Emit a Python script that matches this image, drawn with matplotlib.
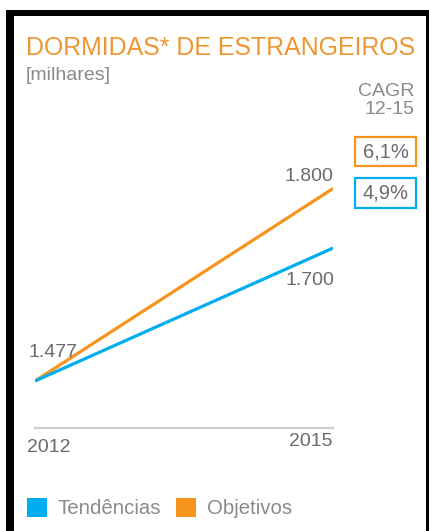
import matplotlib
matplotlib.use("Agg")
import matplotlib.pyplot as plt
from matplotlib.patches import Rectangle

# ---- data ----
years = [2012, 2015]
tendencias = [1477, 1700]
objetivos = [1477, 1800]
value_labels_start = "1.477"
label_tend_end = "1.700"
label_obj_end = "1.800"
cagr_obj = "6,1%"
cagr_tend = "4,9%"
series_names = ["Tendências", "Objetivos"]

BLUE = "#00AEEF"
ORANGE = "#F7941D"
TITLE_OR = "#EE9630"
GRAY = "#8a8a8a"
DGRAY = "#6a6a6a"

plt.rcParams['font.family'] = ['Liberation Sans', 'DejaVu Sans']

W, H = 429, 531
fig = plt.figure(figsize=(W / 100, H / 100), dpi=100)
fig.patch.set_facecolor("white")

def fx(px):
    return px / W

def fy(py):
    return 1 - py / H

# frame
for (x0, y0, x1, y1) in [(6, 10, 14, 531), (6, 10, 429, 16), (426, 10, 429, 531)]:
    fig.add_artist(Rectangle((fx(x0), fy(y1)), fx(x1) - fx(x0), fy(y0) - fy(y1),
                             transform=fig.transFigure, color="black", lw=0))

# axes: x 35..333 px, y 150..428 px
ax_l, ax_r, ax_t, ax_b = 35, 333, 150, 428
ax = fig.add_axes([fx(ax_l), fy(ax_b), fx(ax_r) - fx(ax_l), fy(ax_t) - fy(ax_b)])
ax.set_facecolor("none")
ax.set_xlim(2012, 2015)
ppu = 0.596
ax.set_ylim(1477 - (ax_b - 381) / ppu, 1477 + (381 - ax_t) / ppu)
for s in ["top", "right", "left"]:
    ax.spines[s].set_visible(False)
ax.spines["bottom"].set_color("#cfcfcf")
ax.spines["bottom"].set_linewidth(1.6)
ax.set_xticks([])
ax.set_yticks([])

ax.plot(years, objetivos, color=ORANGE, lw=2.3, solid_capstyle="butt", zorder=3)
ax.plot(years, tendencias, color=BLUE, lw=2.3, solid_capstyle="butt", zorder=4)

ax.annotate(value_labels_start, (years[0], tendencias[0]), xytext=(-7, 29),
            textcoords="offset pixels", ha="left", va="center", color=DGRAY, fontsize=14)
ax.annotate(label_obj_end, (years[1], objetivos[1]), xytext=(0, 12),
            textcoords="offset pixels", ha="right", va="center", color=DGRAY, fontsize=14)
ax.annotate(label_tend_end, (years[1], tendencias[1]), xytext=(1, -32),
            textcoords="offset pixels", ha="right", va="center", color=DGRAY, fontsize=14)

# year labels
ax.annotate(str(years[0]), (years[0], 0), xycoords=("data", "axes fraction"),
            xytext=(-8, -19), textcoords="offset pixels", ha="left", va="center",
            color=DGRAY, fontsize=14)
ax.annotate(str(years[1]), (years[1], 0), xycoords=("data", "axes fraction"),
            xytext=(0, -14), textcoords="offset pixels", ha="right", va="center",
            color=DGRAY, fontsize=14)

# titles
fig.text(fx(26), fy(48), "DORMIDAS* DE ESTRANGEIROS", color=TITLE_OR, fontsize=17.9,
         ha="left", va="center")
fig.text(fx(26), fy(75), "[milhares]", color=GRAY, fontsize=14, ha="left", va="center")
fig.text(fx(414), fy(91), "CAGR", color=GRAY, fontsize=14, ha="right", va="center")
fig.text(fx(414), fy(110), "12-15", color=GRAY, fontsize=14, ha="right", va="center")

# CAGR boxes
for (y0, y1, col, txt) in [(137, 166, ORANGE, cagr_obj), (178, 208, BLUE, cagr_tend)]:
    fig.add_artist(Rectangle((fx(355), fy(y1)), fx(416) - fx(355), fy(y0) - fy(y1),
                             transform=fig.transFigure, facecolor="white",
                             edgecolor=col, lw=1.6))
    fig.text(fx(385.5), fy((y0 + y1) / 2), txt, color=DGRAY, fontsize=14.5,
             ha="center", va="center")

# legend
for (x0, col, name) in [(27, BLUE, series_names[0]), (176, ORANGE, series_names[1])]:
    fig.add_artist(Rectangle((fx(x0), fy(517)), fx(x0 + 20) - fx(x0), fy(498) - fy(517),
                             transform=fig.transFigure, color=col, lw=0))
    fig.text(fx(x0 + 31), fy(508), name, color=GRAY, fontsize=14.7, ha="left", va="center")

fig.savefig("out.png", dpi=100, facecolor="white")
